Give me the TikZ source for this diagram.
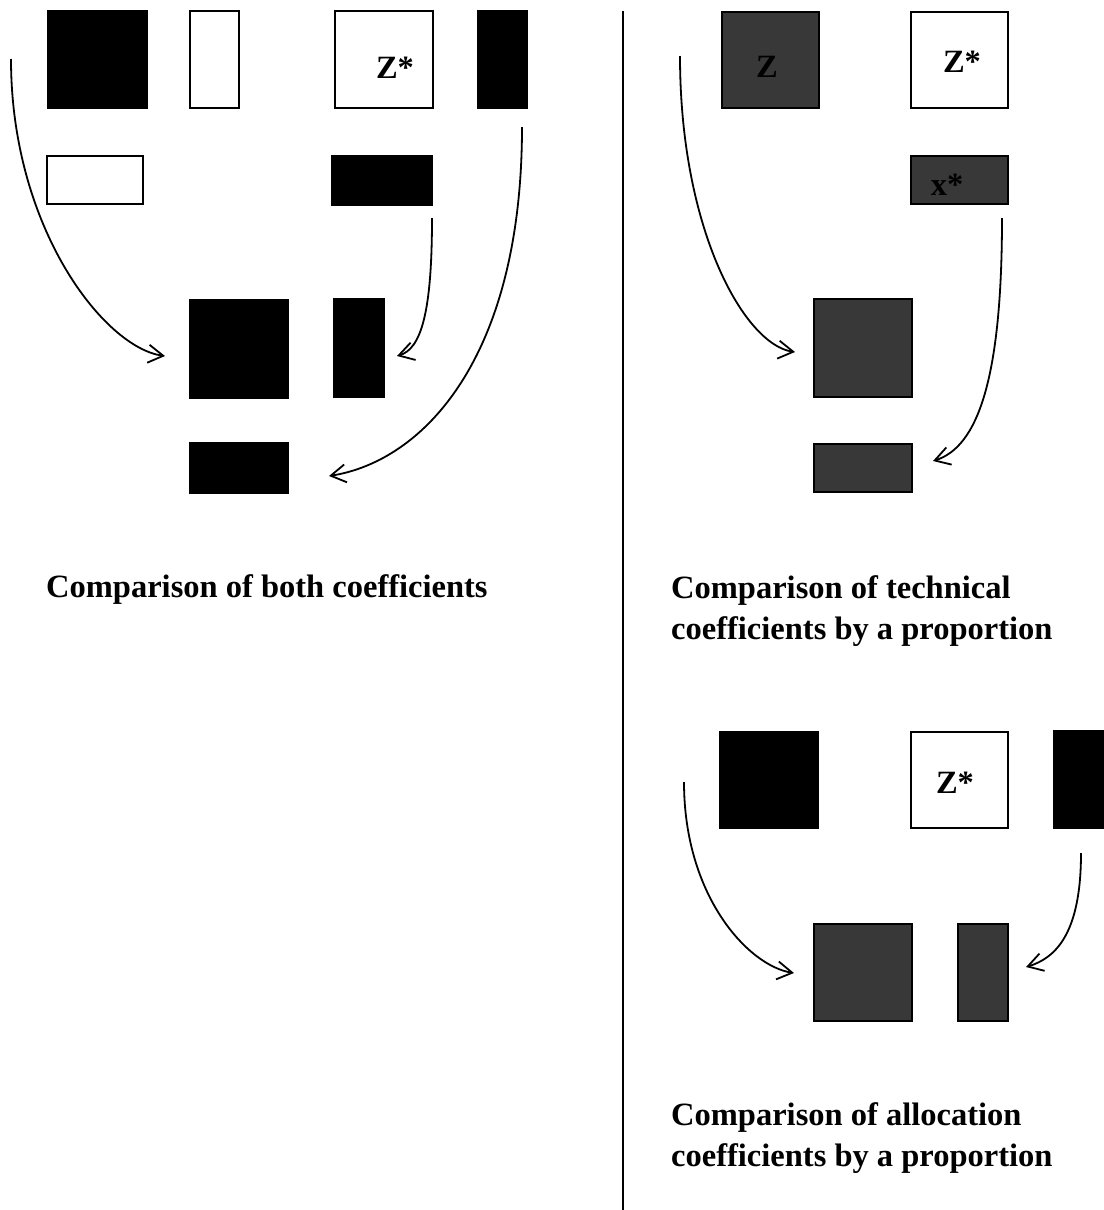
\documentclass[tikz,border=0pt]{standalone}
\usepackage{fontspec}
\setmainfont{Liberation Serif}
\usetikzlibrary{arrows.meta}
\definecolor{darkfill}{HTML}{383838}
\begin{document}
\begin{tikzpicture}[x=1pt,y=-1pt,
  box/.style={draw=black,line width=1.7pt,inner sep=0pt,outer sep=0pt},
  blackbox/.style={box,fill=black},
  whitebox/.style={box,fill=white},
  darkbox/.style={box,fill=darkfill},
  lbl/.style={font=\fontsize{32.5}{41}\selectfont\bfseries,inner sep=0pt,anchor=base},
  caption/.style={font=\fontsize{32.5}{41}\selectfont\bfseries,inner sep=0pt,anchor=base west},
  arr/.style={line width=1.8pt,-{Straight Barb[length=15pt,width=18pt,line width=1.8pt]}},
  divider/.style={line width=2pt}]
\useasboundingbox (0,0) rectangle (1103,1210);
% ---------- left panel ----------
\node[blackbox,minimum width=99pt,minimum height=97pt] (a1) at (97.5,59.5) {};
\node[whitebox,minimum width=49pt,minimum height=97pt] (a2) at (214.5,59.5) {};
\node[whitebox,minimum width=98pt,minimum height=97pt] (a3) at (384,59.5) {};
\node[blackbox,minimum width=49pt,minimum height=97pt] (a4) at (502.5,59.5) {};
\node[lbl] (a3t) at (395,78) {Z*};
\node[whitebox,minimum width=96pt,minimum height=48pt] (b1) at (95,180) {};
\node[blackbox,minimum width=100pt,minimum height=49pt] (b2) at (382,180.5) {};
\node[blackbox,minimum width=98pt,minimum height=98pt] (c1) at (239,349) {};
\node[blackbox,minimum width=50pt,minimum height=98pt] (c2) at (359,348) {};
\node[blackbox,minimum width=98pt,minimum height=50pt] (d1) at (239,468) {};
\coordinate (l1s) at (11,59);
\coordinate (l1e) at (165,356);
\coordinate (l2s) at (432,218);
\coordinate (l2e) at (397,356);
\coordinate (l3s) at (522,127);
\coordinate (l3e) at (329,476);
\draw[arr] (l1s) .. controls +(0,170) and +(-60,-8) .. (l1e);
\draw[arr] (l2s) .. controls +(0,95) and +(24,-7) .. (l2e);
\draw[arr] (l3s) .. controls +(0,230) and +(95,-15) .. (l3e);
\node[caption] (cap1) at (46,597) {Comparison of both coefficients};
% ---------- divider ----------
\coordinate (dtop) at (623,11);
\coordinate (dbot) at (623,1212);
\draw[divider] (dtop) -- (dbot);
% ---------- right top panel ----------
\node[darkbox,minimum width=97pt,minimum height=96pt] (r1) at (770.5,60) {};
\node[lbl] (r1t) at (767,77) {Z};
\node[whitebox,minimum width=97pt,minimum height=96pt] (r2) at (959.5,60) {};
\node[lbl] (r2t) at (962,72) {Z*};
\node[darkbox,minimum width=97pt,minimum height=48pt] (r3) at (959.5,180) {};
\node[lbl] (r3t) at (947,195) {x*};
\node[darkbox,minimum width=98pt,minimum height=98pt] (r4) at (863,348) {};
\node[darkbox,minimum width=98pt,minimum height=48pt] (r5) at (863,468) {};
\coordinate (r1s) at (680,56);
\coordinate (r1e) at (795,352);
\coordinate (r2s) at (1002,218);
\coordinate (r2e) at (933,461);
\draw[arr] (r1s) .. controls +(0,175) and +(-50,-7) .. (r1e);
\draw[arr] (r2s) .. controls +(0,160) and +(45,-14) .. (r2e);
\node[caption] (cap2a) at (671,598) {Comparison of technical};
\node[caption] (cap2b) at (671,639) {coefficients by a proportion};
% ---------- right bottom panel ----------
\node[blackbox,minimum width=98pt,minimum height=96pt] (s1) at (769,780) {};
\node[whitebox,minimum width=97pt,minimum height=96pt] (s2) at (959.5,780) {};
\node[lbl] (s2t) at (955,793) {Z*};
\node[blackbox,minimum width=52pt,minimum height=97pt] (s3) at (1080,779.5) {};
\node[darkbox,minimum width=98pt,minimum height=97pt] (s4) at (863,972.5) {};
\node[darkbox,minimum width=50pt,minimum height=97pt] (s5) at (983,972.5) {};
\coordinate (s1s) at (684,782);
\coordinate (s1e) at (794,973);
\coordinate (s2s) at (1081,853);
\coordinate (s2e) at (1026,967);
\draw[arr] (s1s) .. controls +(0,115) and +(-45,-7) .. (s1e);
\draw[arr] (s2s) .. controls +(0,80) and +(30,-9) .. (s2e);
\node[caption] (cap3a) at (671,1125) {Comparison of allocation};
\node[caption] (cap3b) at (671,1166) {coefficients by a proportion};
\end{tikzpicture}
\end{document}
